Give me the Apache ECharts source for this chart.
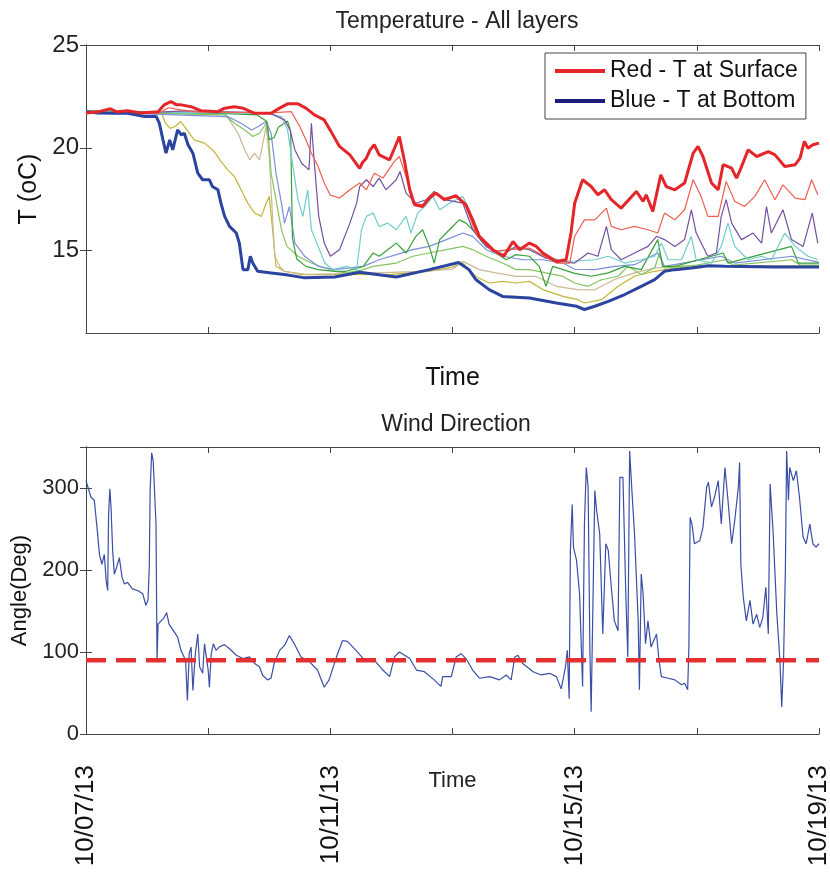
<!DOCTYPE html>
<html>
<head>
<meta charset="utf-8">
<script src="https://cdn.jsdelivr.net/npm/echarts@6/dist/echarts.min.js"></script>
<style>
  html, body { margin: 0; padding: 0; background: #fff; }
  #main { width: 830px; height: 876px; }
</style>
</head>
<body>
<div id="main"></div>
<script>
// x values are days since 10/07/13 00:00
var tickLabels = ['10/07/13', '10/11/13', '10/15/13', '10/19/13']
var labelDays = [0, 4, 8, 12]
var tempTicks = [15, 20, 25]

// temperature, [day, degC]
var surface = [[0,21.7],[0.2,21.75],[0.4,21.9],[0.5,21.75],[0.68,21.8],[0.9,21.7],[1.18,21.76],[1.28,22.09],[1.39,22.25],[1.48,22.1],[1.56,22.09],[1.72,22.0],[1.88,21.81],[2.16,21.76],[2.27,21.93],[2.43,22.0],[2.57,21.93],[2.76,21.68],[3.03,21.68],[3.17,21.93],[3.3,22.14],[3.47,22.14],[3.6,21.93],[3.74,21.6],[3.9,21.36],[4.0,20.85],[4.15,20.07],[4.32,19.66],[4.48,19.0],[4.53,19.3],[4.59,19.5],[4.65,19.9],[4.72,20.15],[4.8,19.66],[4.97,19.42],[5.05,19.98],[5.13,20.55],[5.21,19.42],[5.3,17.96],[5.38,17.23],[5.51,17.15],[5.62,17.56],[5.73,17.8],[5.87,17.48],[6.06,17.67],[6.22,17.23],[6.33,16.5],[6.44,15.7],[6.66,15.05],[6.84,14.73],[6.99,15.45],[7.1,15.05],[7.26,15.37],[7.37,15.21],[7.48,14.89],[7.7,14.48],[7.86,14.56],[7.94,15.86],[8.0,17.31],[8.13,18.45],[8.27,18.12],[8.38,17.72],[8.49,17.96],[8.6,17.48],[8.76,17.07],[9.01,17.88],[9.12,17.4],[9.17,17.72],[9.28,16.91],[9.41,18.69],[9.5,18.12],[9.64,17.96],[9.8,18.29],[9.94,19.74],[10.02,20.07],[10.1,19.58],[10.24,18.29],[10.35,17.96],[10.43,19.18],[10.57,19.01],[10.65,18.53],[10.71,18.93],[10.84,19.9],[10.98,19.58],[11.17,19.82],[11.28,19.66],[11.44,19.09],[11.61,19.18],[11.69,19.5],[11.76,20.31],[11.82,19.98],[11.9,20.15],[12.0,20.23]]
var layer2 = [[0,21.7],[1.2,21.7],[1.35,21.95],[1.55,21.85],[1.8,21.75],[3.0,21.7],[3.36,21.76],[3.5,21.04],[3.6,20.39],[3.69,19.74],[3.8,19.09],[3.9,18.29],[4.0,17.7],[4.15,17.56],[4.32,17.96],[4.48,18.29],[4.59,17.96],[4.72,18.77],[4.86,18.53],[5.05,19.34],[5.13,19.58],[5.24,18.61],[5.35,17.31],[5.51,17.23],[5.68,17.8],[5.87,17.56],[6.06,17.64],[6.22,17.15],[6.38,15.86],[6.66,14.97],[6.93,15.05],[7.26,15.13],[7.7,14.4],[7.92,14.4],[8.0,15.7],[8.16,16.5],[8.33,16.5],[8.52,17.07],[8.6,16.18],[8.76,16.02],[8.98,16.18],[9.2,16.02],[9.36,15.86],[9.47,16.83],[9.64,16.5],[9.8,16.99],[9.94,18.45],[10.07,17.64],[10.18,16.67],[10.35,16.67],[10.48,18.37],[10.62,17.4],[10.78,17.15],[10.95,17.64],[11.11,18.45],[11.28,17.48],[11.41,18.2],[11.61,17.56],[11.77,17.48],[11.88,18.45],[11.98,17.72]]
var purple = [[0,21.7],[1.3,21.75],[1.6,21.8],[3.0,21.7],[3.25,21.36],[3.34,20.87],[3.42,19.9],[3.53,19.25],[3.65,18.93],[3.69,21.2],[3.73,19.58],[3.81,16.67],[3.9,15.37],[4.0,14.73],[4.15,15.05],[4.32,16.34],[4.43,17.31],[4.48,18.12],[4.59,18.45],[4.7,18.12],[4.8,18.53],[4.91,17.96],[5.08,18.45],[5.14,18.85],[5.24,17.8],[5.4,17.31],[5.57,17.48],[5.7,17.88],[5.87,17.48],[6.17,17.31],[6.33,16.02],[6.55,15.21],[6.82,14.81],[7.04,15.21],[7.26,15.05],[7.53,14.64],[7.81,14.48],[8.0,14.4],[8.22,14.89],[8.38,14.73],[8.52,16.18],[8.6,15.05],[8.76,14.56],[8.98,14.89],[9.2,15.21],[9.34,15.7],[9.47,15.54],[9.64,15.21],[9.8,15.54],[9.91,16.99],[9.99,15.86],[10.18,14.73],[10.32,14.89],[10.4,16.67],[10.48,17.48],[10.57,16.34],[10.73,15.54],[10.92,15.86],[11.06,15.37],[11.14,17.15],[11.22,15.86],[11.41,16.99],[11.55,15.54],[11.74,15.21],[11.89,16.83],[11.98,15.37]]
var cyan = [[0,21.75],[2.5,21.7],[3.0,21.65],[3.2,21.52],[3.3,20.87],[3.38,19.25],[3.47,17.48],[3.55,16.67],[3.63,17.96],[3.69,16.02],[3.8,15.21],[3.91,14.4],[4.04,14.08],[4.26,14.24],[4.43,14.08],[4.51,16.02],[4.59,16.67],[4.7,16.83],[4.8,16.18],[4.94,16.34],[5.08,16.02],[5.24,16.67],[5.32,15.86],[5.43,16.83],[5.57,17.23],[5.68,17.64],[5.79,16.99],[5.95,17.31],[6.06,17.48],[6.17,17.64],[6.27,16.99],[6.38,16.02],[6.55,15.21],[6.71,14.89],[6.99,15.13],[7.26,15.05],[7.53,14.73],[7.81,14.48],[8.0,14.5],[8.33,14.56],[8.55,14.73],[8.82,14.4],[9.09,14.56],[9.31,14.73],[9.42,15.37],[9.53,14.56],[9.75,14.56],[9.91,15.7],[9.99,14.56],[10.24,14.4],[10.4,15.21],[10.51,16.34],[10.62,15.21],[10.84,14.56],[11.06,14.73],[11.22,14.56],[11.44,15.86],[11.61,15.21],[11.82,14.73],[11.98,14.56]]
var darkGreen = [[0,21.8],[2.2,21.68],[2.8,21.6],[2.95,21.3],[3.0,20.4],[3.08,20.5],[3.15,21.0],[3.3,21.3],[3.35,20.8],[3.38,15.6],[3.45,14.6],[3.6,14.24],[3.8,14.08],[4.07,14.0],[4.26,14.0],[4.54,14.24],[4.7,14.89],[4.8,14.73],[4.94,15.05],[5.08,15.37],[5.24,14.89],[5.4,15.7],[5.51,16.02],[5.62,15.21],[5.7,14.4],[5.79,15.54],[5.95,16.02],[6.11,16.5],[6.22,16.34],[6.33,16.02],[6.5,15.37],[6.71,14.89],[6.88,14.56],[7.04,14.81],[7.26,14.73],[7.42,14.24],[7.53,13.27],[7.64,14.24],[7.81,14.08],[8.0,13.9],[8.27,13.76],[8.55,13.92],[8.82,14.24],[9.09,14.08],[9.36,15.54],[9.44,14.24],[9.64,14.24],[10.43,14.89],[10.51,14.4],[11.55,15.21],[11.66,14.4],[12.0,14.4]]
var lightBlue = [[0,21.75],[2.32,21.52],[2.54,21.2],[2.71,20.87],[2.82,21.04],[2.95,21.28],[3.03,20.71],[3.11,18.77],[3.2,17.31],[3.25,16.34],[3.33,17.15],[3.42,15.37],[3.58,14.73],[3.8,14.24],[4.07,14.08],[4.54,14.24],[4.8,14.56],[5.08,14.81],[5.35,15.05],[5.62,15.21],[5.9,15.54],[6.17,15.86],[6.33,15.7],[6.55,15.05],[6.82,14.73],[7.15,14.56],[7.48,14.56],[7.81,14.4],[8.0,14.1],[8.33,14.08],[8.65,14.24],[8.98,14.32],[9.36,14.89],[9.47,14.24],[10.4,14.73],[10.62,14.4],[11.55,14.73],[12.0,14.43]]
var lightGreen = [[0,21.75],[2.27,21.6],[2.43,21.2],[2.6,20.87],[2.73,20.55],[2.84,20.71],[2.97,21.28],[3.03,18.77],[3.11,17.48],[3.2,16.02],[3.29,15.21],[3.47,14.73],[3.69,14.4],[3.91,14.16],[4.07,14.0],[4.26,13.92],[4.54,14.08],[4.7,14.24],[5.08,14.4],[5.35,14.73],[5.62,14.89],[5.9,15.05],[6.17,15.21],[6.33,15.05],[6.55,14.73],[6.82,14.4],[7.04,14.08],[7.26,14.08],[7.53,13.92],[7.81,13.75],[8.0,13.43],[8.22,13.27],[8.44,13.59],[8.71,13.76],[8.87,14.24],[9.09,13.84],[9.31,14.16],[9.39,14.89],[9.47,14.16],[10.0,14.3],[10.46,14.56],[10.6,14.3],[11.55,14.56],[11.7,14.3],[12.0,14.3]]
var tan = [[0,21.8],[2.27,21.7],[2.38,21.2],[2.49,20.71],[2.6,19.9],[2.68,19.42],[2.76,19.74],[2.84,19.42],[2.95,21.04],[3.0,19.58],[3.09,14.73],[3.17,14.24],[3.25,14.0],[3.6,13.85],[4.5,13.9],[5.5,14.0],[6.0,14.1],[6.17,14.48],[6.44,14.08],[6.71,13.92],[7.04,13.75],[7.37,13.75],[7.7,13.27],[8.05,13.11],[8.33,13.1],[8.65,13.6],[8.98,13.92],[9.31,14.16],[9.7,14.25],[12.0,14.25]]
var olive = [[0,21.75],[1.24,21.68],[1.3,21.2],[1.38,20.95],[1.46,21.04],[1.55,21.28],[1.61,21.04],[1.77,20.39],[1.94,20.23],[2.1,19.82],[2.21,19.34],[2.32,18.93],[2.43,18.61],[2.54,17.96],[2.65,17.31],[2.76,16.83],[2.87,16.67],[2.95,17.31],[3.0,17.64],[3.06,15.86],[3.11,14.24],[3.25,14.0],[3.53,13.84],[4.07,13.84],[5.0,13.85],[5.6,14.0],[6.0,14.2],[6.17,14.4],[6.38,13.75],[6.6,13.43],[6.82,13.51],[7.04,13.43],[7.26,13.51],[7.48,13.11],[7.81,12.78],[8.05,12.62],[8.16,12.46],[8.44,12.62],[8.71,13.27],[8.98,13.76],[9.31,14.0],[9.64,14.16],[10.2,14.27],[12.0,14.27]]
var bottom = [[0,21.76],[0.2,21.7],[0.46,21.68],[0.68,21.68],[0.96,21.52],[1.15,21.52],[1.2,21.2],[1.26,20.39],[1.31,19.74],[1.37,20.39],[1.42,19.9],[1.5,20.87],[1.56,20.63],[1.61,20.71],[1.67,20.15],[1.75,19.74],[1.83,18.77],[1.91,18.45],[2.02,18.45],[2.07,18.12],[2.16,17.96],[2.21,17.3],[2.27,16.67],[2.35,16.18],[2.46,15.86],[2.51,15.37],[2.57,14.08],[2.65,14.08],[2.69,14.73],[2.73,14.4],[2.81,14.0],[3.03,13.92],[3.25,13.84],[3.58,13.68],[4.07,13.72],[4.48,13.95],[5.08,13.72],[5.62,14.08],[6.1,14.43],[6.27,14.08],[6.38,13.6],[6.6,13.11],[6.82,12.78],[7.26,12.7],[7.7,12.46],[8.03,12.3],[8.16,12.14],[8.33,12.3],[8.55,12.54],[8.82,12.87],[9.09,13.27],[9.31,13.59],[9.47,14.0],[9.64,14.08],[9.91,14.16],[10.19,14.27],[10.46,14.24],[11.27,14.21],[12.0,14.21]]

// wind direction, [day, deg]
var wind = [[0,309],[0.04,299],[0.08,289],[0.136,285],[0.164,264],[0.19,244],[0.22,219],[0.26,207],[0.3,219],[0.33,187],[0.355,175],[0.37,268],[0.39,299],[0.41,276],[0.437,223],[0.464,195],[0.5,203],[0.546,215],[0.59,191],[0.63,183],[0.68,185],[0.76,177],[0.845,175],[0.93,171],[0.98,157],[1.015,163],[1.036,203],[1.05,297],[1.075,343],[1.1,333],[1.125,333],[1.146,256],[1.163,90],[1.18,134],[1.23,138],[1.28,142],[1.32,148],[1.36,134],[1.45,124],[1.5,118],[1.555,102],[1.63,90],[1.66,41],[1.69,98],[1.72,106],[1.75,53],[1.79,98],[1.83,122],[1.86,82],[1.91,74],[1.94,110],[1.97,94],[2.0,78],[2.02,57],[2.05,98],[2.085,110],[2.13,102],[2.18,106],[2.265,109],[2.35,104],[2.46,96],[2.57,92],[2.675,94],[2.76,86],[2.84,82],[2.89,72],[2.97,66],[3.03,68],[3.08,86],[3.17,102],[3.25,108],[3.33,120],[3.41,110],[3.52,94],[3.66,88],[3.79,78],[3.9,57],[3.98,66],[4.1,94],[4.2,114],[4.28,113],[4.42,102],[4.56,90],[4.7,92],[4.86,78],[4.97,70],[5.05,94],[5.13,100],[5.3,92],[5.41,78],[5.54,76],[5.7,66],[5.81,58],[5.84,70],[5.98,70],[6.06,94],[6.14,98],[6.22,92],[6.33,78],[6.44,68],[6.61,70],[6.77,66],[6.88,72],[6.96,66],[7.02,94],[7.07,96],[7.15,86],[7.32,76],[7.45,72],[7.59,74],[7.7,70],[7.78,55],[7.85,82],[7.88,102],[7.91,43],[7.93,224],[7.96,280],[7.98,228],[8.03,212],[8.08,171],[8.13,58],[8.16,256],[8.19,325],[8.22,301],[8.25,98],[8.27,27],[8.3,163],[8.33,297],[8.36,272],[8.41,244],[8.46,122],[8.51,232],[8.55,224],[8.6,179],[8.65,138],[8.71,126],[8.74,313],[8.79,313],[8.84,163],[8.87,94],[8.9,345],[8.94,293],[8.98,244],[9.04,138],[9.06,54],[9.09,195],[9.12,171],[9.16,110],[9.2,138],[9.25,106],[9.34,122],[9.38,90],[9.42,70],[9.53,68],[9.64,66],[9.75,60],[9.8,62],[9.85,54],[9.87,106],[9.89,264],[9.92,256],[9.96,232],[10.05,236],[10.1,252],[10.16,301],[10.19,307],[10.24,277],[10.29,289],[10.35,309],[10.4,256],[10.46,325],[10.51,285],[10.57,232],[10.62,260],[10.68,301],[10.7,331],[10.72,207],[10.76,167],[10.81,138],[10.87,163],[10.92,134],[10.98,146],[11.03,130],[11.08,142],[11.13,179],[11.17,122],[11.2,305],[11.25,244],[11.31,146],[11.36,90],[11.39,33],[11.42,90],[11.45,203],[11.47,345],[11.5,285],[11.52,325],[11.58,309],[11.63,321],[11.68,289],[11.74,240],[11.79,232],[11.85,256],[11.9,232],[11.95,228],[12.0,232]]
var refAngle = 90

var font = 'Liberation Sans, Arial, sans-serif'
var axisColor = '#444'

var myChart = echarts.init(document.getElementById('main'))

// thin layers first, thick surface/bottom on top
var layers = [
    { name: 'olive', data: olive, color: '#c2b538' },
    { name: 'tan', data: tan, color: '#c9b995' },
    { name: 'lightGreen', data: lightGreen, color: '#86c45e' },
    { name: 'lightBlue', data: lightBlue, color: '#7c8fda' },
    { name: 'darkGreen', data: darkGreen, color: '#36a03c' },
    { name: 'cyan', data: cyan, color: '#70cccc' },
    { name: 'purple', data: purple, color: '#7550a2' },
    { name: 'layer2', data: layer2, color: '#ef5f50' }
]

var series = layers.map(function (l) {
    return {
        name: l.name, type: 'line', xAxisIndex: 0, yAxisIndex: 0,
        data: l.data, showSymbol: false, lineStyle: { color: l.color, width: 1.2 }
    }
})
series.push({
    name: 'Blue - T at Bottom', type: 'line', xAxisIndex: 0, yAxisIndex: 0,
    data: bottom, showSymbol: false, itemStyle: { color: '#2a44a0' },
    lineStyle: { color: '#2a44a0', width: 3 }
})
series.push({
    name: 'Red - T at Surface', type: 'line', xAxisIndex: 0, yAxisIndex: 0,
    data: surface, showSymbol: false, itemStyle: { color: '#e4262a' },
    lineStyle: { color: '#e4262a', width: 3 }
})
series.push({
    name: 'wind', type: 'line', xAxisIndex: 2, yAxisIndex: 2,
    data: wind, showSymbol: false, lineStyle: { color: '#3a4ea6', width: 1.2 }
})
series.push({
    name: 'ref', type: 'line', xAxisIndex: 2, yAxisIndex: 2,
    data: [[0, refAngle], [12, refAngle]], showSymbol: false,
    lineStyle: { color: '#e43030', width: 4.5, type: [20, 10] }
})

function frameX(grid, pos, extra) {
    return Object.assign({
        type: 'value', gridIndex: grid, position: pos, min: 0, max: 12, interval: 2,
        axisLine: { show: true, onZero: false, lineStyle: { color: axisColor } },
        axisTick: { inside: true, length: 6, lineStyle: { color: axisColor } },
        axisLabel: { show: false },
        splitLine: { show: false }
    }, extra || {})
}

myChart.setOption({
    animation: false,
    backgroundColor: '#fff',
    textStyle: { fontFamily: font },
    title: [
        { text: 'Temperature - All layers', left: 452, top: 5, textAlign: 'center',
          textStyle: { fontSize: 23, fontWeight: 'normal', color: '#222', fontFamily: font } },
        { text: 'Wind Direction', left: 451, top: 408, textAlign: 'center',
          textStyle: { fontSize: 23, fontWeight: 'normal', color: '#222', fontFamily: font } }
    ],
    legend: {
        data: [
            { name: 'Red - T at Surface', itemStyle: { color: '#e4262a' } },
            { name: 'Blue - T at Bottom', itemStyle: { color: '#1c1c7c' } }
        ],
        orient: 'vertical', left: 545, top: 53,
        icon: 'rect', itemWidth: 50, itemHeight: 4, itemGap: 6,
        padding: [6, 8, 6, 10],
        backgroundColor: '#fff', borderColor: '#444', borderWidth: 1,
        selectedMode: false,
        textStyle: { fontSize: 23, lineHeight: 24, color: '#111', fontFamily: font }
    },
    grid: [
        { left: 86, top: 45, width: 733, height: 288, outerBoundsMode: 'none', containLabel: false },
        { left: 86, top: 447, width: 733, height: 287, outerBoundsMode: 'none', containLabel: false }
    ],
    xAxis: [
        frameX(0, 'bottom', { name: 'Time', nameLocation: 'middle', nameGap: 33,
            nameTextStyle: { fontSize: 25, color: '#111' } }),
        frameX(0, 'top'),
        frameX(1, 'bottom', {
            name: 'Time', nameLocation: 'middle', nameGap: 36, nameMoveOverlap: false,
            nameTextStyle: { fontSize: 22, color: '#222' },
            axisLabel: {
                show: true, rotate: 90, margin: 31, fontSize: 26, color: '#111',
                customValues: labelDays,
                formatter: function (v) { return tickLabels[labelDays.indexOf(v)] }
            }
        }),
        frameX(1, 'top')
    ],
    yAxis: [
        {
            type: 'value', gridIndex: 0, position: 'left', min: 11, max: 25,
            name: 'T (oC)', nameLocation: 'middle', nameGap: 42,
            nameTextStyle: { fontSize: 25, color: '#111' },
            axisLine: { show: true, lineStyle: { color: axisColor } },
            axisTick: { inside: true, length: 6, customValues: tempTicks, lineStyle: { color: axisColor } },
            axisLabel: { customValues: tempTicks, fontSize: 24, margin: 7, color: '#222' },
            splitLine: { show: false }
        },
        {
            type: 'value', gridIndex: 0, position: 'right', min: 11, max: 25,
            axisLine: { show: true, lineStyle: { color: axisColor } },
            axisTick: { inside: true, length: 6, customValues: tempTicks, lineStyle: { color: axisColor } },
            axisLabel: { show: false },
            splitLine: { show: false }
        },
        {
            type: 'value', gridIndex: 1, position: 'left', min: 0, max: 350, interval: 100,
            name: 'Angle(Deg)', nameLocation: 'middle', nameGap: 50,
            nameTextStyle: { fontSize: 22, color: '#111' },
            axisLine: { show: true, lineStyle: { color: axisColor } },
            axisTick: { inside: true, length: 6, lineStyle: { color: axisColor } },
            axisLabel: { fontSize: 22, margin: 7, color: '#222', showMaxLabel: false },
            splitLine: { show: false }
        },
        {
            type: 'value', gridIndex: 1, position: 'right', min: 0, max: 350, interval: 100,
            axisLine: { show: true, lineStyle: { color: axisColor } },
            axisTick: { inside: true, length: 6, lineStyle: { color: axisColor } },
            axisLabel: { show: false },
            splitLine: { show: false }
        }
    ],
    series: series
})
</script>
</body>
</html>
